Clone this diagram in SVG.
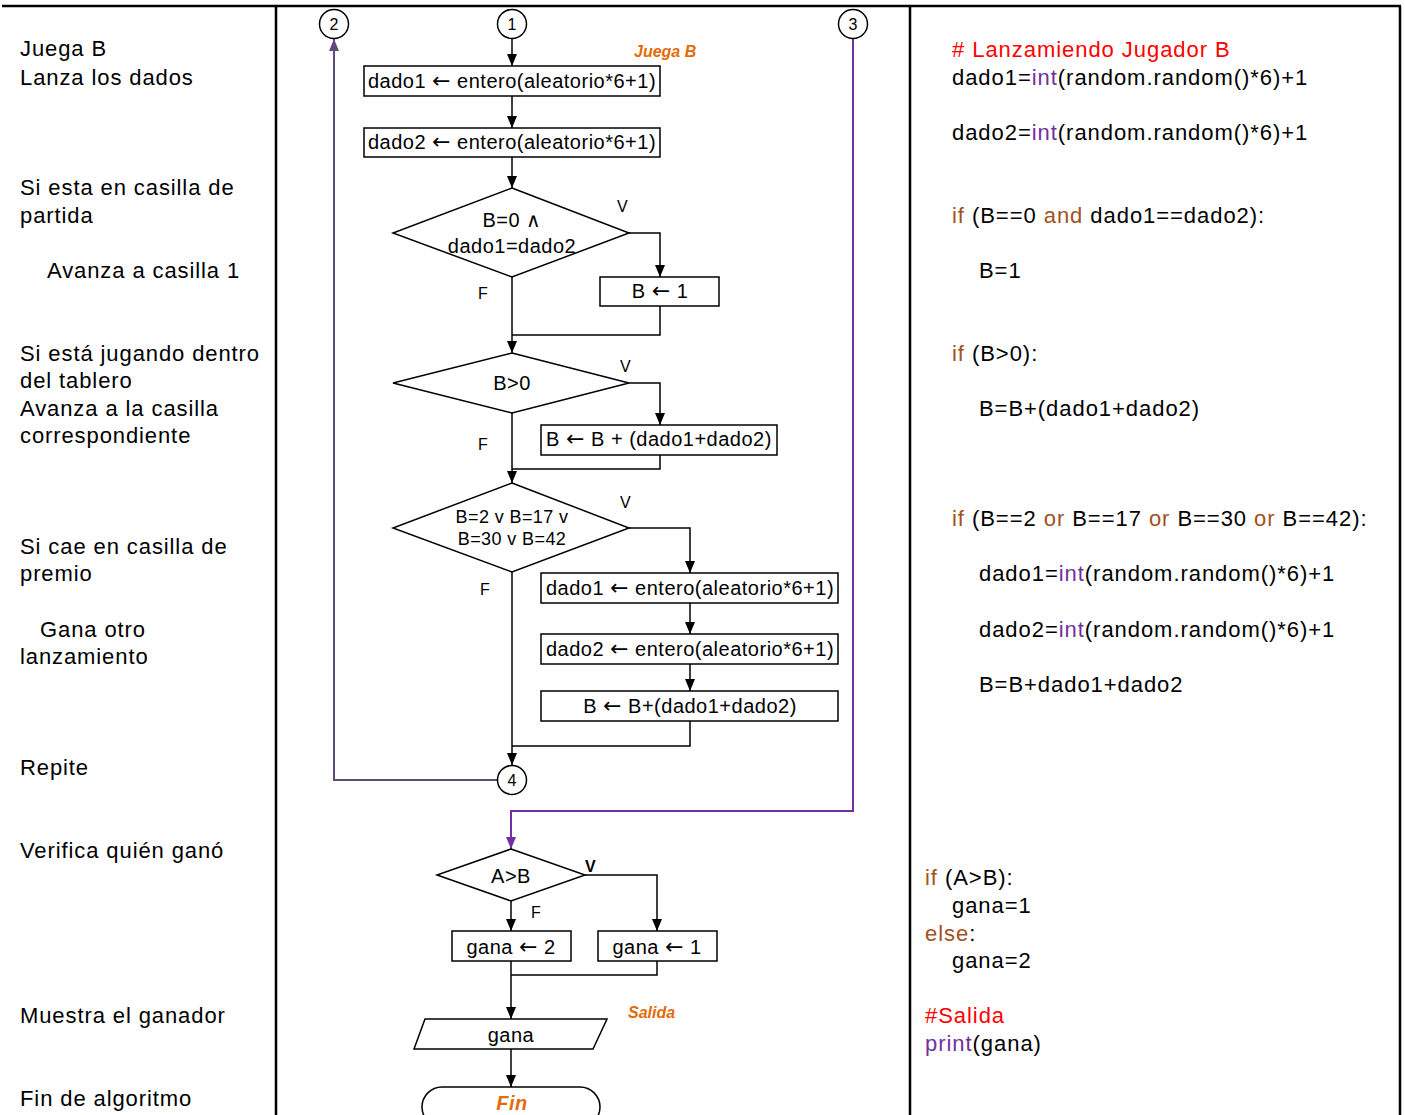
<svg xmlns="http://www.w3.org/2000/svg" width="1405" height="1115" viewBox="0 0 1405 1115">
<defs>
<style>
text{font-family:"Liberation Sans",Arial,sans-serif;fill:#000}
.side{font-size:22px;letter-spacing:0.9px}
.code{font-size:22px;letter-spacing:0.95px}
.fc{font-size:20px;letter-spacing:0.5px;text-anchor:middle}
.fc3{font-size:18px;letter-spacing:0.4px;text-anchor:middle}
.arr{font-family:"DejaVu Sans",sans-serif;font-size:22px}
.lbl{font-size:16px}
.num{font-size:16px;text-anchor:middle}
.org{fill:#E36C0A;font-weight:bold;font-style:italic}
.red{fill:#FF0000}
.kw{fill:#A0521E}
.fn{fill:#7030A0}
.shape{fill:#fff;stroke:#000;stroke-width:1.5}
.ln{fill:none;stroke:#000;stroke-width:1.5}
.border{fill:none;stroke:#000;stroke-width:2.5}
</style>
<marker id="ah" markerUnits="userSpaceOnUse" markerWidth="12" markerHeight="10" refX="12" refY="5" orient="auto"><path d="M0,0 L12,5 L0,10 z" fill="#000"/></marker>
<marker id="ahp" markerUnits="userSpaceOnUse" markerWidth="12" markerHeight="10" refX="12" refY="5" orient="auto"><path d="M0,0 L12,5 L0,10 z" fill="#604A7B"/></marker>
<marker id="ahp2" markerUnits="userSpaceOnUse" markerWidth="12" markerHeight="10" refX="12" refY="5" orient="auto"><path d="M0,0 L12,5 L0,10 z" fill="#7030A0"/></marker>
</defs>
<rect width="1405" height="1115" fill="#fff"/>
<g id="table">
<line class="border" x1="2" y1="6" x2="1401" y2="6"/>
<line class="border" x1="276" y1="6" x2="276" y2="1115"/>
<line class="border" x1="910" y1="6" x2="910" y2="1115"/>
<line class="border" x1="1400" y1="6" x2="1400" y2="1115"/>
</g>
<g id="left-column">
<text class="side" x="20" y="56">Juega B</text>
<text class="side" x="20" y="85">Lanza los dados</text>
<text class="side" x="20" y="195">Si esta en casilla de</text>
<text class="side" x="20" y="223">partida</text>
<text class="side" x="47" y="278">Avanza a casilla 1</text>
<text class="side" x="20" y="361">Si está jugando dentro</text>
<text class="side" x="20" y="388">del tablero</text>
<text class="side" x="20" y="416">Avanza a la casilla</text>
<text class="side" x="20" y="443">correspondiente</text>
<text class="side" x="20" y="554">Si cae en casilla de</text>
<text class="side" x="20" y="581">premio</text>
<text class="side" x="40" y="637">Gana otro</text>
<text class="side" x="20" y="664">lanzamiento</text>
<text class="side" x="20" y="775">Repite</text>
<text class="side" x="20" y="858">Verifica quién ganó</text>
<text class="side" x="20" y="1023">Muestra el ganador</text>
<text class="side" x="20" y="1106">Fin de algoritmo</text>
</g>
<g id="code-column">
<text class="code red" x="952" y="57"># Lanzamiendo Jugador B</text>
<text class="code" x="952" y="85">dado1=<tspan class="fn">int</tspan>(random.random()*6)+1</text>
<text class="code" x="952" y="140">dado2=<tspan class="fn">int</tspan>(random.random()*6)+1</text>
<text class="code" x="952" y="223"><tspan class="kw">if</tspan> (B==0 <tspan class="kw">and</tspan> dado1==dado2):</text>
<text class="code" x="979" y="278">B=1</text>
<text class="code" x="952" y="361"><tspan class="kw">if</tspan> (B&gt;0):</text>
<text class="code" x="979" y="416">B=B+(dado1+dado2)</text>
<text class="code" x="952" y="526"><tspan class="kw">if</tspan> (B==2 <tspan class="kw">or</tspan> B==17 <tspan class="kw">or</tspan> B==30 <tspan class="kw">or</tspan> B==42):</text>
<text class="code" x="979" y="581">dado1=<tspan class="fn">int</tspan>(random.random()*6)+1</text>
<text class="code" x="979" y="637">dado2=<tspan class="fn">int</tspan>(random.random()*6)+1</text>
<text class="code" x="979" y="692">B=B+dado1+dado2</text>
<text class="code" x="925" y="885"><tspan class="kw">if</tspan> (A&gt;B):</text>
<text class="code" x="952" y="913">gana=1</text>
<text class="code" x="925" y="941"><tspan class="kw">else</tspan>:</text>
<text class="code" x="952" y="968">gana=2</text>
<text class="code red" x="925" y="1023">#Salida</text>
<text class="code" x="925" y="1051"><tspan class="fn">print</tspan>(gana)</text>
</g>
<g id="connectors">
<line class="ln" x1="512" y1="39" x2="512" y2="66" marker-end="url(#ah)"/>
<line class="ln" x1="512" y1="96" x2="512" y2="128" marker-end="url(#ah)"/>
<line class="ln" x1="512" y1="157" x2="512" y2="188" marker-end="url(#ah)"/>
<polyline class="ln" points="629,233 660,233 660,277" marker-end="url(#ah)"/>
<polyline class="ln" points="660,306 660,335 512,335"/>
<line class="ln" x1="512" y1="277" x2="512" y2="353" marker-end="url(#ah)"/>
<polyline class="ln" points="629,383 660,383 660,425" marker-end="url(#ah)"/>
<polyline class="ln" points="660,455 660,469 512,469"/>
<line class="ln" x1="512" y1="413" x2="512" y2="483" marker-end="url(#ah)"/>
<polyline class="ln" points="629,528 690,528 690,573" marker-end="url(#ah)"/>
<line class="ln" x1="690" y1="603" x2="690" y2="634" marker-end="url(#ah)"/>
<line class="ln" x1="690" y1="664" x2="690" y2="691" marker-end="url(#ah)"/>
<polyline class="ln" points="690,721 690,746 512,746"/>
<line class="ln" x1="512" y1="572" x2="512" y2="765" marker-end="url(#ah)"/>
<polyline points="497,780 334,780 334,39" fill="none" stroke="#604A7B" stroke-width="2" marker-end="url(#ahp)"/>
<polyline points="853,39 853,811 511,811 511,849" fill="none" stroke="#7030A0" stroke-width="2" marker-end="url(#ahp2)"/>
<polyline class="ln" points="585,875 657,875 657,931" marker-end="url(#ah)"/>
<line class="ln" x1="511" y1="901" x2="511" y2="931" marker-end="url(#ah)"/>
<polyline class="ln" points="657,961 657,975 511,975"/>
<line class="ln" x1="511" y1="961" x2="511" y2="1019" marker-end="url(#ah)"/>
<line class="ln" x1="511" y1="1049" x2="511" y2="1087" marker-end="url(#ah)"/>
</g>
<g id="conn-1"><circle class="shape" cx="512" cy="24" r="14.5"/><text class="num" x="512" y="30">1</text></g>
<g id="conn-2"><circle class="shape" cx="334" cy="24" r="14.5"/><text class="num" x="334" y="30">2</text></g>
<g id="conn-3"><circle class="shape" cx="853" cy="24" r="14.5"/><text class="num" x="853" y="30">3</text></g>
<g id="conn-4"><circle class="shape" cx="512" cy="780" r="14.5"/><text class="num" x="512" y="786">4</text></g>
<g id="title-juega"><text class="lbl org" x="634" y="57">Juega B</text></g>
<g id="box-dado1"><rect class="shape" x="364" y="66" width="296" height="30"/><text class="fc" x="512" y="88">dado1 <tspan class="arr">←</tspan> entero(aleatorio*6+1)</text></g>
<g id="box-dado2"><rect class="shape" x="364" y="128" width="296" height="29"/><text class="fc" x="512" y="149">dado2 <tspan class="arr">←</tspan> entero(aleatorio*6+1)</text></g>
<g id="dec-1"><polygon class="shape" points="512,188 629,233 512,277 393,233"/><text class="fc" x="512" y="227">B=0 ∧</text><text class="fc" x="512" y="253">dado1=dado2</text><text class="lbl" x="617" y="212">V</text><text class="lbl" x="478" y="299">F</text></g>
<g id="box-b1"><rect class="shape" x="600" y="277" width="119" height="29"/><text class="fc" x="660" y="298">B <tspan class="arr">←</tspan> 1</text></g>
<g id="dec-2"><polygon class="shape" points="512,353 629,383 512,413 393,383"/><text class="fc" x="512" y="390">B&gt;0</text><text class="lbl" x="620" y="372">V</text><text class="lbl" x="478" y="450">F</text></g>
<g id="box-bsum"><rect class="shape" x="541" y="425" width="236" height="30"/><text class="fc" x="659" y="446">B <tspan class="arr">←</tspan> B + (dado1+dado2)</text></g>
<g id="dec-3"><polygon class="shape" points="512,483 629,528 512,572 393,528"/><text class="fc3" x="512" y="523">B=2 v B=17 v</text><text class="fc3" x="512" y="545">B=30 v B=42</text><text class="lbl" x="620" y="508">V</text><text class="lbl" x="480" y="595">F</text></g>
<g id="box-dado1b"><rect class="shape" x="541" y="573" width="297" height="30"/><text class="fc" x="690" y="595">dado1 <tspan class="arr">←</tspan> entero(aleatorio*6+1)</text></g>
<g id="box-dado2b"><rect class="shape" x="541" y="634" width="297" height="30"/><text class="fc" x="690" y="656">dado2 <tspan class="arr">←</tspan> entero(aleatorio*6+1)</text></g>
<g id="box-bsum2"><rect class="shape" x="541" y="691" width="297" height="30"/><text class="fc" x="690" y="713">B <tspan class="arr">←</tspan> B+(dado1+dado2)</text></g>
<g id="dec-4"><polygon class="shape" points="511,849 585,875 511,901 437,875"/><text class="fc" x="511" y="883">A&gt;B</text><text class="lbl" x="585" y="872" font-weight="bold">V</text><text class="lbl" x="531" y="918">F</text></g>
<g id="box-gana2"><rect class="shape" x="452" y="931" width="119" height="30"/><text class="fc" x="511" y="954">gana <tspan class="arr">←</tspan> 2</text></g>
<g id="box-gana1"><rect class="shape" x="598" y="931" width="119" height="30"/><text class="fc" x="657" y="954">gana <tspan class="arr">←</tspan> 1</text></g>
<g id="title-salida"><text class="lbl org" x="628" y="1018">Salida</text></g>
<g id="out-gana"><polygon class="shape" points="425,1019 607,1019 593,1049 414,1049"/><text class="fc" x="511" y="1042">gana</text></g>
<g id="fin"><rect class="shape" x="422" y="1087" width="178" height="40" rx="20"/><text class="fc org" x="512" y="1110">Fin</text></g>
</svg>
